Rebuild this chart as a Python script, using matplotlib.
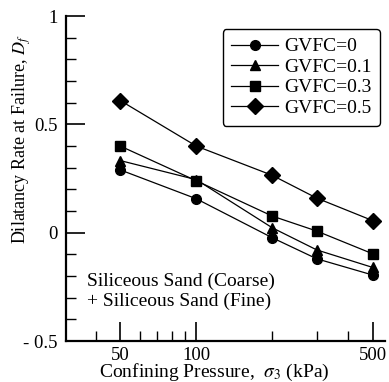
"""Dilatancy rate at failure vs confining pressure"""

import numpy as np
import matplotlib.pyplot as plt
from matplotlib.ticker import FixedLocator, NullFormatter

plt.rcParams['font.family'] = ['Liberation Serif', 'DejaVu Serif']
plt.rcParams['mathtext.fontset'] = 'stix'

# confining pressure (kPa)
pressure = [50, 100, 200, 300, 500]

# dilatancy rate for each GVFC
d_gvfc0 = [0.29, 0.157, -0.023, -0.12, -0.195]
d_gvfc01 = [0.333, 0.245, 0.023, -0.079, -0.16]
d_gvfc03 = [0.40, 0.24, 0.077, 0.008, -0.097]
d_gvfc05 = [0.61, 0.40, 0.265, 0.160, 0.056]

labels = ["GVFC=0", "GVFC=0.1", "GVFC=0.3", "GVFC=0.5"]
ytick_vals = [-0.5, 0, 0.5, 1]
ytick_labels = ["- 0.5", "0", "0.5", "1"]
xtick_vals = [50, 100, 500]
xtick_labels = ["50", "100", "500"]
xminor_vals = [40, 60, 70, 80, 90, 200, 300, 400]

fig = plt.figure(figsize=(3.89, 3.82), dpi=100)
ax = fig.add_axes([0.170, 0.107, 0.820, 0.851])

series = [d_gvfc0, d_gvfc01, d_gvfc03, d_gvfc05]
markers = ["o", "^", "s", "D"]
msizes = [7, 7.5, 7, 8.5]
for vals, m, ms, lab in zip(series, markers, msizes, labels):
    ax.plot(pressure, vals, color="black", lw=0.9, marker=m, ms=ms,
            mfc="black", mec="black", label=lab)

ax.set_xscale("log")
ax.set_xlim(30.5, 560)
ax.set_ylim(-0.5, 1)

ax.xaxis.set_major_locator(FixedLocator(xtick_vals))
ax.set_xticklabels(xtick_labels)
ax.xaxis.set_minor_locator(FixedLocator(xminor_vals))
ax.xaxis.set_minor_formatter(NullFormatter())

ax.set_yticks(ytick_vals)
ax.set_yticklabels(ytick_labels)
ax.yaxis.set_minor_locator(FixedLocator(np.arange(-0.4, 1.0, 0.1)))

ax.tick_params(which="major", direction="in", length=14, width=1.2,
               labelsize=13.5)
ax.tick_params(axis="x", which="major", pad=4)
ax.tick_params(axis="y", which="major", pad=6)
ax.tick_params(which="minor", direction="in", length=7, width=1.0)

for side in ["top", "right"]:
    ax.spines[side].set_visible(False)
for side in ["left", "bottom"]:
    ax.spines[side].set_linewidth(1.6)

ax.set_ylabel("Dilatancy Rate at Failure, $D_f$", fontsize=13)
ax.yaxis.set_label_coords(-0.103, 0.62)
ax.set_xlabel("Confining Pressure,  $\\sigma_3$ (kPa)", fontsize=14)
ax.xaxis.set_label_coords(0.464, -0.065)

ax.text(0.065, 0.209, "Siliceous Sand (Coarse)\n+ Siliceous Sand (Fine)",
        transform=ax.transAxes, fontsize=14, va="top", ha="left",
        linespacing=1.15)

leg = ax.legend(loc="upper right", bbox_to_anchor=(0.984, 0.96), fontsize=14,
                frameon=True, fancybox=True, edgecolor="black",
                handlelength=2.4, handletextpad=0.3, labelspacing=0.15,
                borderpad=0.45, borderaxespad=0.0)
leg.get_frame().set_linewidth(1.0)
leg.get_frame().set_alpha(1)

plt.savefig("out.png", dpi=100)
